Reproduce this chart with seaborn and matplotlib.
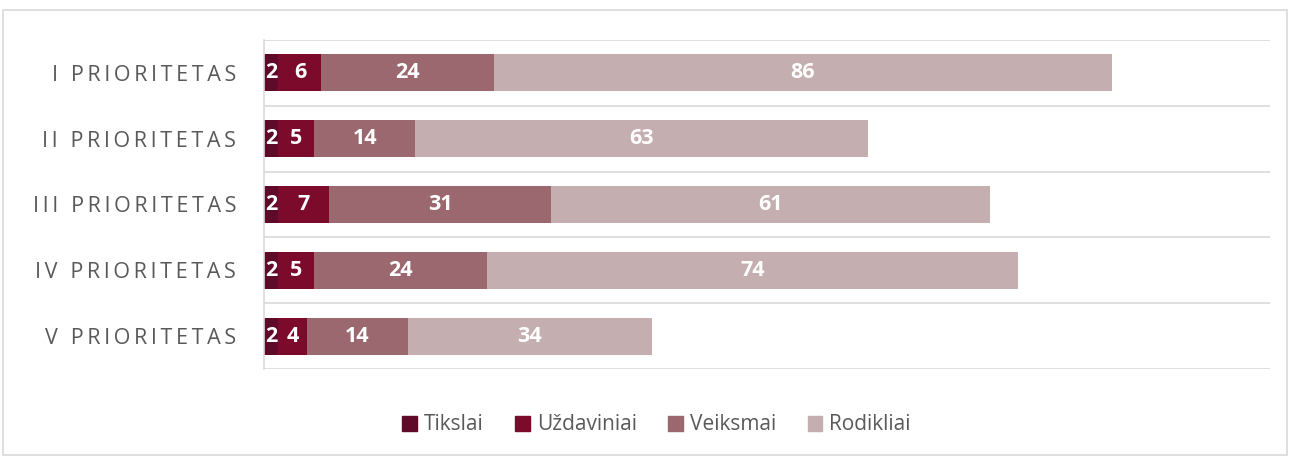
import matplotlib
matplotlib.use("Agg")
import matplotlib.pyplot as plt
import seaborn as sns
import pandas as pd
import numpy as np
from matplotlib.patches import Rectangle

categories = ["I PRIORITETAS", "II PRIORITETAS", "III PRIORITETAS", "IV PRIORITETAS", "V PRIORITETAS"]
series_names = ["Tikslai", "Uždaviniai", "Veiksmai", "Rodikliai"]
tikslai = [2, 2, 2, 2, 2]
uzdaviniai = [6, 5, 7, 5, 4]
veiksmai = [24, 14, 31, 24, 14]
rodikliai = [86, 63, 61, 74, 34]
colors = ["#5F0A28", "#7B0A2B", "#9B6870", "#C4AEAF"]

sns.set_theme(style="white")
plt.rcParams['font.family'] = ['Open Sans', 'DejaVu Sans']

values = [tikslai, uzdaviniai, veiksmai, rodikliai]
cum = np.cumsum(np.array(values), axis=0)

fig = plt.figure(figsize=(12.9, 4.57), dpi=100)
ax = fig.add_axes([264/1290, 1-369/457, (1270-264)/1290, (369-40)/457])

# draw from the full stack down so earlier series sit on top
for i in range(len(series_names) - 1, -1, -1):
    df = pd.DataFrame({"cat": categories, "val": cum[i]})
    sns.barplot(data=df, x="val", y="cat", orient="h", color=colors[i],
                width=0.56, ax=ax, saturation=1, linewidth=0)

for i in range(len(series_names)):
    for j, cat in enumerate(categories):
        v = values[i][j]
        center = cum[i][j] - v / 2
        ax.text(center, j, str(v), ha="center", va="center", color="white",
                fontsize=15.5, fontweight="bold")

ax.set_xlim(0, 140)
ax.set_ylim(4.5, -0.5)
ax.set_xlabel("")
ax.set_ylabel("")
ax.set_xticks([])


def spaced(label):
    words = label.split(" ")
    return "\u2009 \u2009".join("\u2009".join(w) for w in words)


ax.set_yticks(range(len(categories)))
ax.set_yticklabels([spaced(c) for c in categories], fontsize=15.5, color="#595959")
ax.tick_params(axis="y", length=0, pad=20)
ax.set_yticks(np.arange(-0.5, 5.0, 1.0), minor=True)
ax.grid(which="minor", axis="y", color="#D9D9D9", linewidth=1.2)
ax.tick_params(which="minor", length=0)
ax.set_axisbelow(True)
for s in ["top", "right", "bottom"]:
    ax.spines[s].set_visible(False)
ax.spines["left"].set_color("#D9D9D9")
ax.spines["left"].set_linewidth(1.2)

handles = [Rectangle((0, 0), 1, 1, color=c) for c in colors]
fig.legend(handles, series_names, loc="center", bbox_to_anchor=(0.509, 1-425/457),
           ncol=4, frameon=False, fontsize=15, handlelength=0.7, handleheight=0.7,
           columnspacing=1.5, handletextpad=0.35, labelcolor="#595959")

fig.patches.append(Rectangle((3/1290, 2/457), 1284/1290, 1-12/457, transform=fig.transFigure,
                             fill=False, edgecolor="#D9D9D9", linewidth=1.2))

fig.savefig("out.png", dpi=100)
